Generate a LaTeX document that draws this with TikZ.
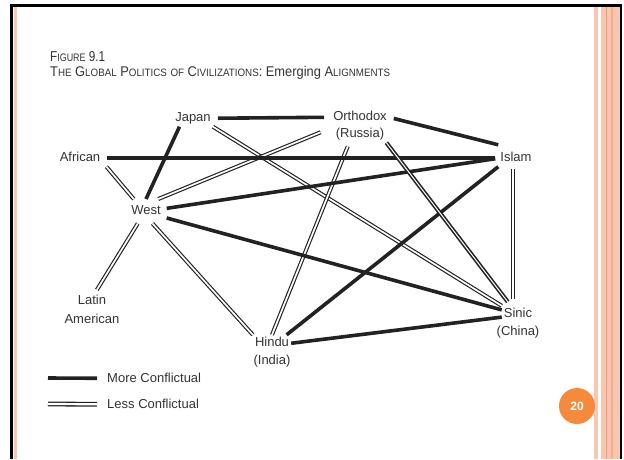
\documentclass[tikz,border=0pt]{standalone}
\usepackage{fontspec}
\usepackage{graphicx}
\setmainfont{Liberation Sans}
\definecolor{ink}{HTML}{222222}
\definecolor{txt}{HTML}{333333}
\definecolor{frameor}{HTML}{F9C6B1}
\definecolor{frameortwo}{HTML}{F29B72}
\definecolor{badge}{HTML}{F58A3C}
\newcommand\tsc[2]{{\fontsize{12.5}{12.5}\selectfont #1}{\fontsize{9.5}{9.5}\selectfont #2}}
\begin{document}
\begin{tikzpicture}[x=1pt,y=-1pt,
  lbl/.style={font=\fontsize{13}{13}\selectfont, text=txt, inner sep=2pt,
    text height=9.5pt, text depth=3pt, anchor=base},
  more/.style={draw=ink, line width=3.6pt},
  less/.style={draw=ink, line width=1.15pt, double=white, double distance=1.7pt},
  mixed/.style={draw=ink, line width=1.6pt, double=white, double distance=1.0pt},
]
% page and frame
\fill[white] (0,0) rectangle (624,459);
\useasboundingbox (0,0) rectangle (624,459);
\fill[black] (9.5,4) rectangle (622,6.5);
\fill[black] (9.5,4) rectangle (12.5,459);
\fill[black] (619.5,4) rectangle (622,459);
\fill[frameor] (14,6.5) rectangle (16.5,459);
\fill[frameor] (594,6.5) rectangle (597.5,459);
\fill[frameor] (601,6.5) rectangle (619.5,459);
\fill[frameortwo] (605.5,6.5) rectangle (607,459);
\fill[frameortwo!60!frameor] (611,6.5) rectangle (612.5,459);

% title
\node[anchor=base west, inner sep=0pt, text=txt] (fig) at (50,61)
  {\resizebox{55pt}{10pt}{\fontsize{12.5}{12.5}\selectfont\tsc{F}{IGURE} 9.1}};
\node[anchor=base west, inner sep=0pt, text=txt] (title) at (50,76)
  {\resizebox{340pt}{10.2pt}{\fontsize{12.5}{12.5}\selectfont\tsc{T}{HE} \tsc{G}{LOBAL} \tsc{P}{OLITICS} {\fontsize{9.5}{9.5}\selectfont OF} \tsc{C}{IVILIZATIONS}: Emerging \tsc{A}{LIGNMENTS}}};

% civilisations
\node[lbl] (japan) at (193,121.5) {Japan};
\node[lbl] (ortho) at (360,120.5) {Orthodox};
\node[lbl] (russia) at (360,137.5) {(Russia)};
\node[lbl] (african) at (80,161.5) {African};
\node[lbl] (islam) at (516,161.5) {Islam};
\node[lbl, outer sep=4pt] (west) at (146,214.5) {West};
\node[lbl] (latin) at (92,304.5) {Latin};
\node[lbl] (american) at (92,323.5) {American};
\node[lbl] (hindu) at (272,346.5) {Hindu};
\node[lbl] (india) at (272,364.5) {(India)};
\node[lbl] (sinic) at (518,317.5) {Sinic};
\node[lbl] (china) at (518,335.5) {(China)};

% less conflictual
\draw[less] ([xshift=4pt]african.south east) -- (west.135);
\draw[less] (japan.south east) -- (sinic.north west);
\draw[less] ([xshift=-13pt,yshift=2pt]russia.west) -- (west.45);
\draw[less, shorten <=4pt] (russia.-142) -- (hindu.north);
\draw[less] (west.-124) -- ([yshift=3pt]latin.60);
\draw[less] (west.-62) -- (hindu.north west);
\draw[less, shorten <=2pt] ([xshift=-3pt]islam.south) -- ([xshift=-5pt,yshift=7pt]sinic.north);

% more conflictual
\draw[more, shorten <=5pt, shorten >=7pt] (japan.east) -- (ortho.west);
\draw[more, shorten <=5pt] (ortho.east) -- ([yshift=5pt]islam.north west);
\draw[more, shorten <=5pt, shorten >=3pt] (african.east) -- (islam.west);
\draw[more, shorten >=3pt] (west.8) -- (islam.west);
\draw[more] (japan.-148) -- (west.north);
\draw[more] (west.-18) -- (sinic.165);
\draw[more] (islam.south west) -- (hindu.30);
\draw[more] (hindu.east) -- (sinic.190);
\draw[mixed] (russia.south east) -- ([shift={(6pt,4pt)}]sinic.north west);

% legend
\node[lbl, anchor=base west] (moretxt) at (105,382.5) {More Conflictual};
\node[lbl, anchor=base west] (lesstxt) at (105,408.5) {Less Conflictual};
\coordinate (m1) at (48,378);
\coordinate (l1) at (48,404);
\draw[more] (m1) -- ([xshift=-8pt,yshift=1pt]moretxt.west);
\draw[draw=ink, line width=1.3pt, double=white, double distance=2.2pt] (l1) -- ([xshift=-8pt,yshift=1pt]lesstxt.west);

% page badge
\node[circle, fill=badge, minimum size=36pt, inner sep=0pt, text=white,
  font=\bfseries\fontsize{12}{12}\selectfont] (page) at (577,406) {20};
\end{tikzpicture}
\end{document}
